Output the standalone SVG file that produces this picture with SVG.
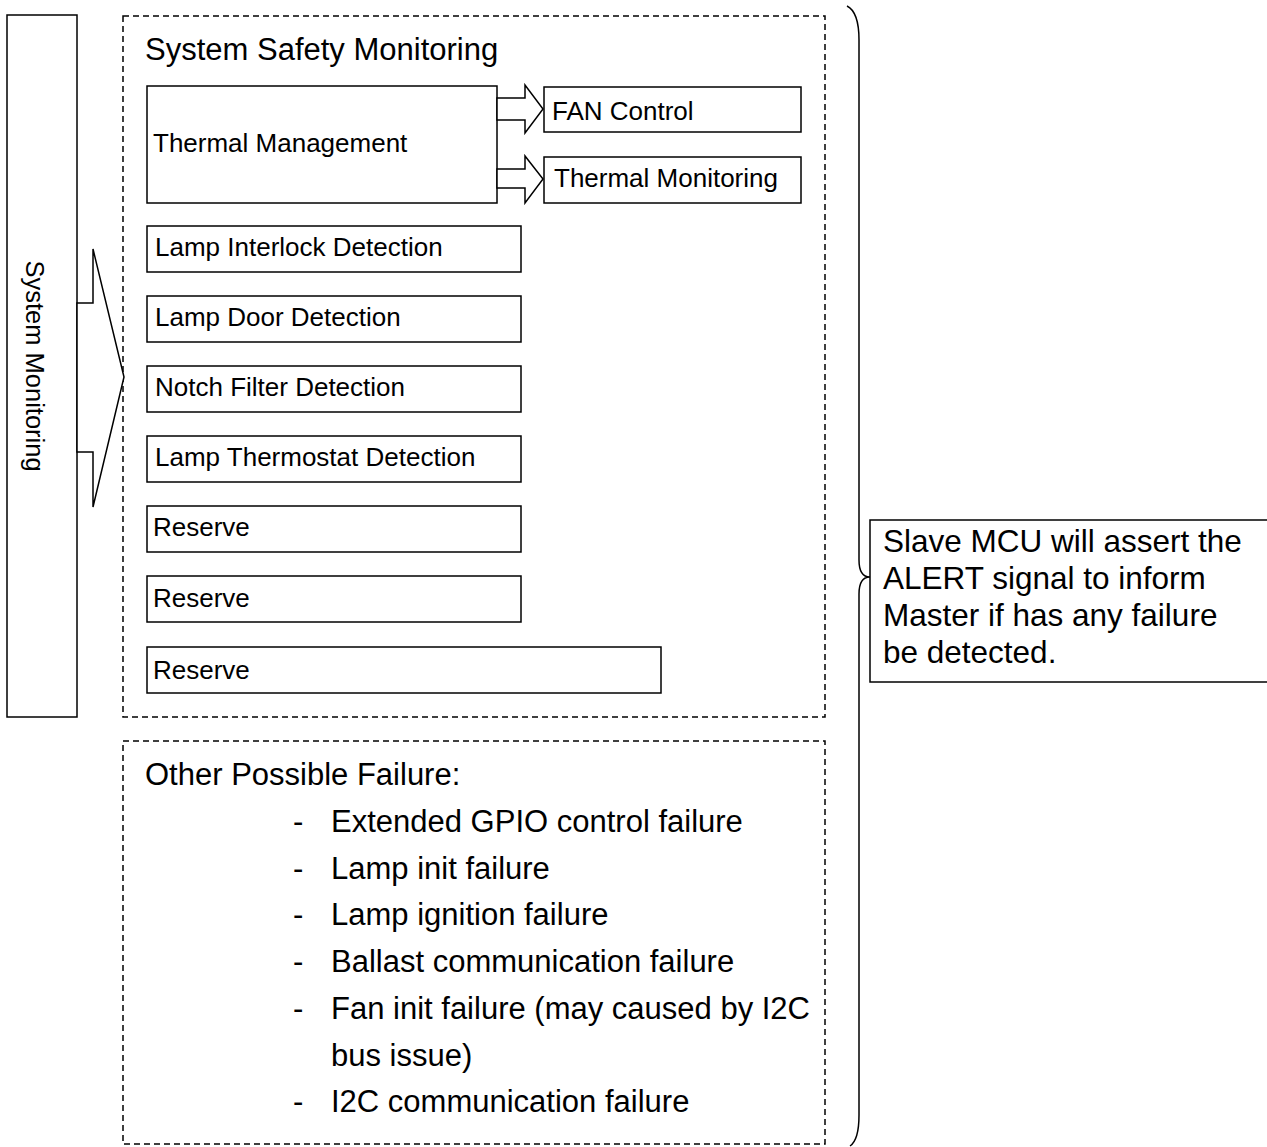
<svg xmlns="http://www.w3.org/2000/svg" width="1267" height="1147" viewBox="0 0 1267 1147">
<style>
.box{fill:#fff;stroke:#000;stroke-width:1.5}
.dash{fill:none;stroke:#000;stroke-width:1.5;stroke-dasharray:6 4}
.ln{fill:none;stroke:#000;stroke-width:1.5}
.big{font-family:"Liberation Sans",Arial,sans-serif;font-size:31px;fill:#000}
.note{font-family:"Liberation Sans",Arial,sans-serif;font-size:31.5px;fill:#000}
.sm{font-family:"Liberation Sans",Arial,sans-serif;font-size:26px;fill:#000}
.vt{font-family:"Liberation Sans",Arial,sans-serif;font-size:25.5px;fill:#000}
</style>
<rect width="1267" height="1147" fill="#fff"/>
<g id="system-monitoring">
<rect class="box" x="7" y="15" width="70" height="702"/>
<text class="vt" transform="translate(35,366) rotate(90)" x="0" y="9" text-anchor="middle">System Monitoring</text>
</g>
<g id="safety-group">
<rect class="dash" x="123" y="16" width="702" height="701"/>
<text class="big" x="145" y="60">System Safety Monitoring</text>
</g>
<g id="thermal-management">
<rect class="box" x="147" y="86" width="350" height="117"/>
<text class="sm" x="153" y="152">Thermal Management</text>
</g>
<g id="fan-control">
<rect class="box" x="544" y="87" width="257" height="45"/>
<text class="sm" x="552" y="120">FAN Control</text>
</g>
<g id="thermal-monitoring">
<rect class="box" x="544" y="157" width="257" height="46"/>
<text class="sm" x="554" y="187">Thermal Monitoring</text>
</g>
<g id="lamp-interlock">
<rect class="box" x="147" y="226" width="374" height="46"/>
<text class="sm" x="155" y="256">Lamp Interlock Detection</text>
</g>
<g id="lamp-door">
<rect class="box" x="147" y="296" width="374" height="46"/>
<text class="sm" x="155" y="326">Lamp Door Detection</text>
</g>
<g id="notch-filter">
<rect class="box" x="147" y="366" width="374" height="46"/>
<text class="sm" x="155" y="396">Notch Filter Detection</text>
</g>
<g id="lamp-thermostat">
<rect class="box" x="147" y="436" width="374" height="46"/>
<text class="sm" x="155" y="466">Lamp Thermostat Detection</text>
</g>
<g id="reserve-1">
<rect class="box" x="147" y="506" width="374" height="46"/>
<text class="sm" x="153" y="536">Reserve</text>
</g>
<g id="reserve-2">
<rect class="box" x="147" y="576" width="374" height="46"/>
<text class="sm" x="153" y="607">Reserve</text>
</g>
<g id="reserve-3">
<rect class="box" x="147" y="647" width="514" height="46"/>
<text class="sm" x="153" y="679">Reserve</text>
</g>
<g id="other-failures">
<rect class="dash" x="123" y="741" width="702" height="403"/>
<text class="big" x="145" y="785">Other Possible Failure:</text>
<g class="big">
<text x="293" y="832">-</text><text x="331" y="832">Extended GPIO control failure</text>
<text x="293" y="879">-</text><text x="331" y="879">Lamp init failure</text>
<text x="293" y="925">-</text><text x="331" y="925">Lamp ignition failure</text>
<text x="293" y="972">-</text><text x="331" y="972">Ballast communication failure</text>
<text x="293" y="1019">-</text><text x="331" y="1019">Fan init failure (may caused by I2C</text>
<text x="331" y="1066">bus issue)</text>
<text x="293" y="1112">-</text><text x="331" y="1112">I2C communication failure</text>
</g>
</g>
<g id="alert-note">
<rect class="box" x="870" y="520" width="400" height="162"/>
<g class="note">
<text x="883" y="552">Slave MCU will assert the</text>
<text x="883" y="589">ALERT signal to inform</text>
<text x="883" y="626">Master if has any failure</text>
<text x="883" y="663">be detected.</text>
</g>
</g>
<g id="connectors">
<polygon class="box" points="77,303 93,303 93,249 124,377 93,507 93,452 77,452"/>
<polygon class="box" points="497,98 525,98 525,85 543,109 525,133 525,120 497,120"/>
<polygon class="box" points="497,169 525,169 525,156 543,179 525,203 525,188 497,188"/>
<path class="ln" d="M847,6 Q859,12 859,40 L859,560 Q859,577 870,577 Q859,577 859,594 L859,1115 Q859,1140 850,1146"/>
</g>
</svg>
